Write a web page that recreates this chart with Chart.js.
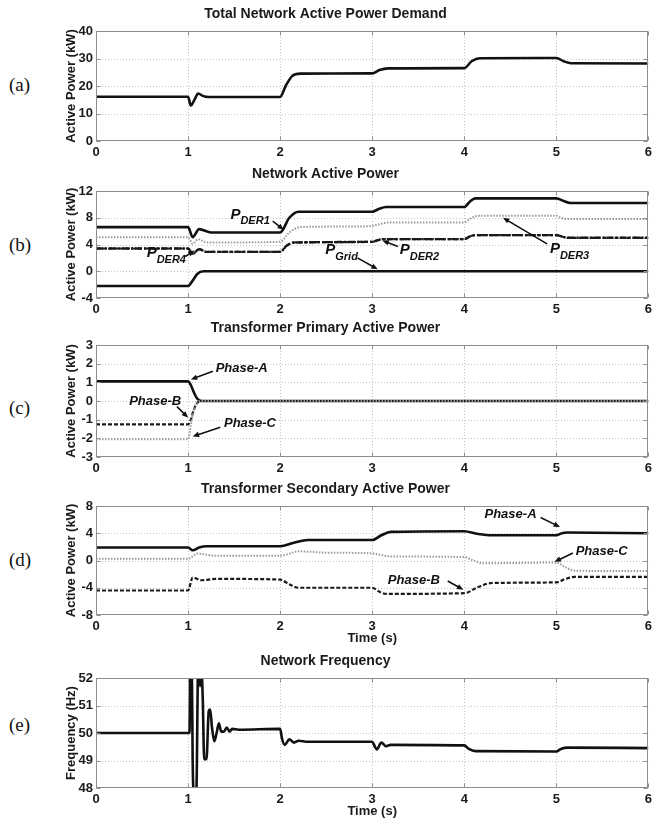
<!DOCTYPE html>
<html><head><meta charset="utf-8">
<script src="https://cdn.jsdelivr.net/npm/chart.js@4/dist/chart.umd.min.js"></script>
<style>
html,body{margin:0;padding:0;background:#fff}
body{width:656px;height:820px;position:relative;overflow:hidden}
canvas.pane{position:absolute;left:0}
.lab{position:absolute;left:9px;font-family:"Liberation Serif","Times New Roman",serif;font-size:19px;color:#111;line-height:20px;transform:translateY(-50%)}
</style></head><body>
<div class="lab" style="top:85px">(a)</div>
<div class="lab" style="top:245px">(b)</div>
<div class="lab" style="top:408px">(c)</div>
<div class="lab" style="top:560px">(d)</div>
<div class="lab" style="top:725px">(e)</div>
<canvas id="ca" class="pane"></canvas>
<canvas id="cb" class="pane"></canvas>
<canvas id="cc" class="pane"></canvas>
<canvas id="cd" class="pane"></canvas>
<canvas id="ce" class="pane"></canvas>
<script>
// ---------- DATA ----------
const xTicks = [0, 1, 2, 3, 4, 5, 6];

// (a) Total network active power demand (kW)
const demandT = [0, 1.0, 1.03, 1.07, 1.11, 1.16, 1.22, 2.0, 2.06, 2.13, 2.22, 3.0, 3.08, 3.17, 4.0, 4.08, 4.17, 5.0, 5.08, 5.16, 6.0];
const demandP = [16.1, 16.1, 12.9, 15.0, 17.3, 16.4, 16.0, 16.0, 20.0, 23.6, 24.5, 24.6, 25.8, 26.4, 26.5, 29.0, 30.1, 30.2, 29.0, 28.3, 28.2];

// (b) Network active power (kW)
const der1T = [0, 1.0, 1.05, 1.12, 1.25, 2.0, 2.1, 2.2, 3.0, 3.07, 3.15, 4.0, 4.06, 4.12, 5.0, 5.08, 5.15, 6.0];
const der1P = [6.6, 6.6, 5.1, 6.3, 5.8, 5.8, 8.0, 8.9, 8.9, 9.3, 9.6, 9.6, 10.4, 10.9, 10.9, 10.5, 10.2, 10.2];
const der3T = [0, 1.0, 1.05, 1.11, 1.2, 2.0, 2.1, 2.22, 2.9, 3.0, 3.1, 3.18, 4.0, 4.07, 4.15, 5.0, 5.05, 5.12, 6.0];
const der3P = [5.1, 5.1, 4.1, 4.8, 4.3, 4.4, 5.8, 6.6, 6.7, 6.8, 7.1, 7.3, 7.3, 7.9, 8.3, 8.3, 8.0, 7.8, 7.8];
const der2T = [0, 1.0, 1.05, 1.12, 1.2, 2.0, 2.07, 2.15, 3.0, 3.05, 3.12, 4.0, 4.06, 4.12, 5.0, 5.06, 5.12, 6.0];
const der2P = [3.4, 3.4, 2.6, 3.3, 2.9, 2.9, 3.8, 4.3, 4.4, 4.6, 4.8, 4.8, 5.2, 5.4, 5.4, 5.2, 5.0, 5.0];
const der4T = [0, 1.0, 1.05, 1.12, 1.2, 2.0, 2.07, 2.15, 3.0, 3.05, 3.12, 4.0, 4.06, 4.12, 5.0, 5.06, 5.12, 6.0];
const der4P = [3.4, 3.4, 2.6, 3.3, 2.9, 2.9, 3.8, 4.3, 4.4, 4.6, 4.8, 4.8, 5.2, 5.4, 5.4, 5.2, 5.0, 5.0];
const gridT = [0, 1.0, 1.05, 1.1, 1.17, 6.0];
const gridP = [-2.2, -2.2, -1.4, -0.4, 0, 0];

// (c) Transformer primary active power (kW)
const priT = [0, 1.0, 1.03, 1.06, 1.1, 1.15, 6.0];
const priA = [1.05, 1.05, 0.85, 0.5, 0.12, 0, 0];
const priB = [-1.25, -1.25, -1.0, -0.5, -0.1, 0, 0];
const priC = [-2.05, -2.05, -1.3, -0.5, -0.08, 0, 0];

// (d) Transformer secondary active power (kW)
const secAT = [0, 1.0, 1.05, 1.12, 1.2, 2.0, 2.15, 2.3, 3.0, 3.1, 3.2, 4.0, 4.15, 4.3, 5.0, 5.06, 5.12, 6.0];
const secA  = [1.9, 1.9, 1.5, 1.9, 2.1, 2.1, 2.6, 3.0, 3.0, 3.7, 4.2, 4.3, 3.9, 3.7, 3.7, 4.0, 4.1, 4.0];
const secCT = [0, 1.0, 1.1, 1.3, 2.0, 2.1, 2.2, 2.5, 3.0, 3.1, 3.2, 4.0, 4.1, 4.2, 5.0, 5.1, 5.2, 6.0];
const secC  = [0.25, 0.25, 1.0, 0.7, 0.7, 1.0, 1.35, 1.15, 1.05, 0.8, 0.6, 0.5, 0.0, -0.4, -0.3, -1.0, -1.5, -1.55];
const secBT = [0, 1.0, 1.05, 1.15, 1.3, 2.0, 2.1, 2.2, 3.0, 3.08, 3.15, 4.0, 4.15, 4.3, 5.0, 5.1, 5.2, 6.0];
const secB  = [-4.4, -4.4, -2.5, -2.9, -2.7, -2.8, -3.5, -4.0, -4.0, -4.6, -4.9, -4.8, -3.9, -3.3, -3.2, -2.7, -2.4, -2.4];

// (e) Network frequency (Hz)
const freqT = [0, 1.015, 1.025, 1.04, 1.05, 1.06, 1.09, 1.11, 1.12, 1.13, 1.145, 1.16, 1.175, 1.2, 1.225, 1.24, 1.26, 1.285, 1.31, 1.335, 1.36, 1.39, 1.42, 1.45, 1.48, 1.55, 2.0, 2.02, 2.05, 2.1, 2.15, 2.2, 2.3, 3.0, 3.03, 3.05, 3.1, 3.15, 3.2, 4.0, 4.05, 4.12, 5.0, 5.05, 5.12, 6.0];
const freqF = [50.0, 50.0, 52.6, 52.6, 49.0, 47.9, 47.9, 52.6, 52.6, 51.7, 52.3, 51.2, 49.05, 49.05, 50.8, 50.85, 50.2, 49.7, 50.0, 50.35, 50.05, 50.05, 50.2, 50.05, 50.15, 50.12, 50.15, 49.8, 49.57, 49.77, 49.65, 49.72, 49.68, 49.68, 49.5, 49.4, 49.65, 49.52, 49.57, 49.55, 49.42, 49.34, 49.33, 49.42, 49.47, 49.45];

// ---------- HELPERS ----------
const FONT = '"Liberation Sans", Arial, Helvetica, sans-serif';
Chart.defaults.font.family = FONT;
Chart.defaults.color = '#1a1a1a';
const pts = (ts, vs) => ts.map((t, i) => ({x: t, y: vs[i]}));

const SOLID = {borderColor: '#111', borderWidth: 2.6, borderDash: []};
const DOTTED = {borderColor: '#9a9a9a', borderWidth: 2, borderDash: [1.5, 1.5]};
const DASHED = {borderColor: '#1a1a1a', borderWidth: 2.2, borderDash: [4, 2]};
const DASHDOT = {borderColor: '#1a1a1a', borderWidth: 2.4, borderDash: [7, 2, 2, 2]};

const framePlugin = {
  id: 'frame',
  beforeDatasetsDraw(chart) {
    const {ctx, chartArea: a, scales: {x, y}} = chart;
    ctx.save();
    ctx.strokeStyle = '#c4c4c4'; ctx.lineWidth = 1; ctx.setLineDash([1, 2]);
    x.ticks.forEach(t => {
      const px = Math.round(x.getPixelForValue(t.value)) + 0.5;
      if (px <= a.left + 1 || px >= a.right - 1) return;
      ctx.beginPath(); ctx.moveTo(px, a.top); ctx.lineTo(px, a.bottom); ctx.stroke();
    });
    y.ticks.forEach(t => {
      const py = Math.round(y.getPixelForValue(t.value)) + 0.5;
      if (py <= a.top + 1 || py >= a.bottom - 1) return;
      ctx.beginPath(); ctx.moveTo(a.left, py); ctx.lineTo(a.right, py); ctx.stroke();
    });
    ctx.restore();
  },
  afterDatasetsDraw(chart) {
    const {ctx, chartArea: a, scales: {x, y}} = chart;
    ctx.save();
    ctx.strokeStyle = '#8e8e8e'; ctx.lineWidth = 1; ctx.setLineDash([]);
    const L = Math.round(a.left) + 0.5, R = Math.round(a.right) - 0.5, T = Math.round(a.top) + 0.5, B = Math.round(a.bottom) - 0.5;
    ctx.strokeRect(L, T, R - L, B - T);
    ctx.beginPath();
    x.ticks.forEach(t => {
      const px = Math.round(x.getPixelForValue(t.value)) + 0.5;
      ctx.moveTo(px, B); ctx.lineTo(px, B - 4); ctx.moveTo(px, T); ctx.lineTo(px, T + 4);
    });
    y.ticks.forEach(t => {
      const py = Math.round(y.getPixelForValue(t.value)) + 0.5;
      ctx.moveTo(L, py); ctx.lineTo(L + 4, py); ctx.moveTo(R, py); ctx.lineTo(R - 4, py);
    });
    ctx.stroke();
    ctx.restore();
  }
};

function notesPlugin(items) {
  return {
    id: 'notes',
    afterDraw(chart) {
      const {ctx, scales: {x, y}} = chart;
      ctx.save();
      ctx.fillStyle = '#111'; ctx.strokeStyle = '#111';
      ctx.textBaseline = 'middle'; ctx.textAlign = 'left';
      items.forEach(n => {
        const px = x.getPixelForValue(n.x), py = y.getPixelForValue(n.y);
        if (n.sub) {
          ctx.font = 'italic bold 15px ' + FONT;
          ctx.fillText(n.text, px, py);
          const w = ctx.measureText(n.text).width;
          ctx.font = 'italic bold 11px ' + FONT;
          ctx.fillText(n.sub, px + w, py + 7);
        } else {
          ctx.font = 'italic bold 13px ' + FONT;
          ctx.fillText(n.text, px, py);
        }
        const x1 = x.getPixelForValue(n.tail[0]), y1 = y.getPixelForValue(n.tail[1]);
        const x2 = x.getPixelForValue(n.tip[0]), y2 = y.getPixelForValue(n.tip[1]);
        const ang = Math.atan2(y2 - y1, x2 - x1), h = 7;
        ctx.lineWidth = 1.6; ctx.setLineDash([]);
        ctx.beginPath(); ctx.moveTo(x1, y1);
        ctx.lineTo(x2 - Math.cos(ang) * h * 0.8, y2 - Math.sin(ang) * h * 0.8); ctx.stroke();
        ctx.beginPath(); ctx.moveTo(x2, y2);
        ctx.lineTo(x2 - h * Math.cos(ang - 0.4), y2 - h * Math.sin(ang - 0.4));
        ctx.lineTo(x2 - h * Math.cos(ang + 0.4), y2 - h * Math.sin(ang + 0.4));
        ctx.closePath(); ctx.fill();
      });
      ctx.restore();
    }
  };
}

function makePanel(id, p) {
  const TITLE_H = 25;
  const cv = document.getElementById(id);
  const h = TITLE_H + (p.bottom - p.top) + p.xh;
  cv.width = 656; cv.height = h;
  cv.style.top = (p.top - TITLE_H) + 'px';
  cv.style.width = '656px'; cv.style.height = h + 'px';
  return new Chart(cv, {
    type: 'line',
    data: {datasets: p.datasets.map(d => Object.assign({
      data: d.data, label: d.label, pointRadius: 0, fill: false,
      cubicInterpolationMode: 'monotone', clip: 0
    }, d.style))},
    options: {
      responsive: false, animation: false, devicePixelRatio: 1,
      layout: {padding: {left: 0, right: 5, top: 0, bottom: 0}},
      plugins: {
        legend: {display: false}, tooltip: {enabled: false},
        title: {display: true, text: p.title, color: '#1a1a1a',
          font: {size: 14, weight: 'bold', lineHeight: 1.2}, padding: {top: 0.2, bottom: 8}}
      },
      scales: {
        x: {
          type: 'linear', min: 0, max: 6,
          afterBuildTicks: s => { s.ticks = xTicks.map(v => ({value: v})); },
          afterFit: s => { s.height = p.xh; },
          grid: {display: false, drawTicks: false}, border: {display: false},
          ticks: {font: {size: 13, weight: 'bold'}, padding: 4, maxRotation: 0, autoSkip: false},
          title: {display: !!p.xTitle, text: p.xTitle || '', font: {size: 13, weight: 'bold'},
            padding: {top: 0, bottom: p.xTitlePad || 0}}
        },
        y: {
          type: 'linear', min: p.yMin, max: p.yMax,
          afterBuildTicks: s => { s.ticks = p.yTicks.map(v => ({value: v})); },
          afterFit: s => { s.width = 96; },
          grid: {display: false, drawTicks: false}, border: {display: false},
          ticks: {font: {size: 13, weight: 'bold'}, padding: 3, autoSkip: false},
          title: {display: true, text: p.yTitle, font: {size: 13, weight: 'bold'},
            padding: {top: 63.5, bottom: 0}}
        }
      }
    },
    plugins: [framePlugin, notesPlugin(p.notes || [])]
  });
}

// ---------- PANELS ----------
makePanel('ca', {
  top: 31, bottom: 141, xh: 22, yMin: 0, yMax: 40, yTicks: [0, 10, 20, 30, 40],
  title: 'Total Network Active Power Demand', yTitle: 'Active Power (kW)',
  datasets: [{label: 'Demand', data: pts(demandT, demandP), style: SOLID}]
});

makePanel('cb', {
  top: 191, bottom: 298, xh: 22, yMin: -4, yMax: 12, yTicks: [-4, 0, 4, 8, 12],
  title: 'Network Active Power', yTitle: 'Active Power (kW)',
  datasets: [
    {label: 'P_DER4', data: pts(der4T, der4P), style: DASHED},
    {label: 'P_DER2', data: pts(der2T, der2P), style: DASHDOT},
    {label: 'P_DER3', data: pts(der3T, der3P), style: DOTTED},
    {label: 'P_DER1', data: pts(der1T, der1P), style: SOLID},
    {label: 'P_Grid', data: pts(gridT, gridP), style: SOLID}
  ],
  notes: [
    {text: 'P', sub: 'DER1', x: 1.46, y: 8.5, tail: [1.92, 7.5], tip: [2.04, 6.2]},
    {text: 'P', sub: 'DER4', x: 0.55, y: 2.8, tail: [0.97, 2.2], tip: [1.07, 3.1]},
    {text: 'P', sub: 'Grid', x: 2.49, y: 3.2, tail: [2.84, 2.0], tip: [3.06, 0.3]},
    {text: 'P', sub: 'DER2', x: 3.30, y: 3.2, tail: [3.28, 3.7], tip: [3.11, 4.6]},
    {text: 'P', sub: 'DER3', x: 4.93, y: 3.3, tail: [4.9, 4.1], tip: [4.42, 8.0]}
  ]
});

makePanel('cc', {
  top: 345, bottom: 457, xh: 22, yMin: -3, yMax: 3, yTicks: [-3, -2, -1, 0, 1, 2, 3],
  title: 'Transformer Primary Active Power', yTitle: 'Active Power (kW)',
  datasets: [
    {label: 'Phase-C', data: pts(priT, priC), style: DOTTED},
    {label: 'Phase-B', data: pts(priT, priB), style: DASHED},
    {label: 'Phase-A', data: pts(priT, priA), style: SOLID}
  ],
  notes: [
    {text: 'Phase-A', x: 1.30, y: 1.75, tail: [1.27, 1.6], tip: [1.03, 1.15]},
    {text: 'Phase-B', x: 0.36, y: 0.0, tail: [0.88, -0.3], tip: [1.0, -0.9]},
    {text: 'Phase-C', x: 1.39, y: -1.2, tail: [1.35, -1.4], tip: [1.05, -1.9]}
  ]
});

makePanel('cd', {
  top: 506, bottom: 615, xh: 36, xTitle: 'Time (s)', xTitlePad: 5.2,
  yMin: -8, yMax: 8, yTicks: [-8, -4, 0, 4, 8],
  title: 'Transformer Secondary Active Power', yTitle: 'Active Power (kW)',
  datasets: [
    {label: 'Phase-C', data: pts(secCT, secC), style: DOTTED},
    {label: 'Phase-B', data: pts(secBT, secB), style: DASHED},
    {label: 'Phase-A', data: pts(secAT, secA), style: SOLID}
  ],
  notes: [
    {text: 'Phase-A', x: 4.22, y: 6.8, tail: [4.83, 6.3], tip: [5.04, 4.9]},
    {text: 'Phase-C', x: 5.21, y: 1.4, tail: [5.18, 1.1], tip: [4.98, -0.2]},
    {text: 'Phase-B', x: 3.17, y: -2.9, tail: [3.82, -3.0], tip: [3.99, -4.3]}
  ]
});

makePanel('ce', {
  top: 678, bottom: 788, xh: 32, xTitle: 'Time (s)', xTitlePad: 1.2,
  yMin: 48, yMax: 52, yTicks: [48, 49, 50, 51, 52],
  title: 'Network Frequency', yTitle: 'Frequency (Hz)',
  datasets: [{label: 'Frequency', data: pts(freqT, freqF), style: SOLID}]
});
</script>
</body></html>
